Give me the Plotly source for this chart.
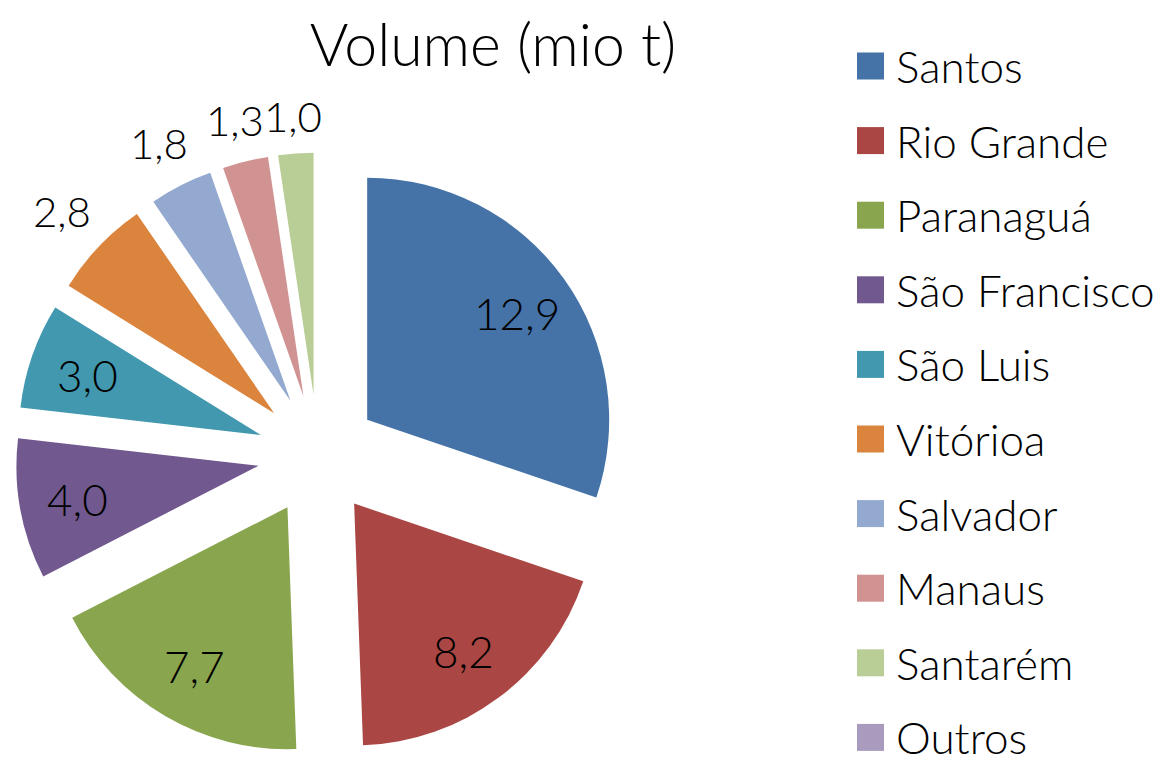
import math
import plotly.graph_objects as go

# ---- data ----
labels = ["Santos", "Rio Grande", "Paranaguá", "São Francisco", "São Luis",
          "Vitórioa", "Salvador", "Manaus", "Santarém", "Outros"]
values = [12.9, 8.2, 7.7, 4.0, 3.0, 2.8, 1.8, 1.3, 1.0, 0.0]
colors = ["#4572A7", "#AA4643", "#89A54E", "#71588F", "#4198AF",
          "#DB843D", "#93A9CF", "#D19392", "#B9CD96", "#A99BBD"]
label_pos = ["inside", "inside", "inside", "inside", "inside",
             "outside", "outside", "outside", "outside", "none"]
title_text = "Volume (mio t)"

# ---- style / layout constants ----
FONT = "Lato"
OFF = 8                     # page body margin of the browser
W, H = 1164 - OFF, 764 - OFF
PULL = 0.25
CX, CY = 318, 455           # pie centre (window px)
BOX = 605                   # pie box size (px) incl. pull
R = BOX / 2 / (1 + PULL)    # pie radius (px)


def fx(x):
    return (x - OFF) / W


def fy(y):
    return 1 - (y - OFF) / H


fig = go.Figure(go.Pie(
    labels=labels,
    values=values,
    textinfo="none",
    sort=False,
    direction="clockwise",
    rotation=0,
    pull=[PULL] * len(values),
    marker=dict(colors=colors, line=dict(width=0)),
    domain=dict(x=[fx(CX - BOX / 2), fx(CX + BOX / 2)],
                y=[fy(CY + BOX / 2), fy(CY - BOX / 2)]),
    showlegend=False,
    automargin=False,
    hoverinfo="label+value",
))

annotations = []
shapes = []

# data labels, positioned from the slice angles
total = sum(values)
cum = 0.0
for v, pos in zip(values, label_pos):
    if v > 0 and pos != "none":
        mid = (cum + v / 2) / total * 2 * math.pi
        dx, dy = math.sin(mid), -math.cos(mid)
        if pos == "inside":
            d = R * 1.01
            size = 44
        else:
            d = R * 1.315 + abs(dx) * 30 + abs(dy) * 20
            size = 42
        annotations.append(dict(
            text=f"{v:.1f}".replace(".", ","), xref="paper", yref="paper",
            x=fx(CX + d * dx), y=fy(CY + d * dy),
            xanchor="center", yanchor="middle", showarrow=False,
            font=dict(family=FONT, size=size, color="#000000", weight=300)))
    cum += v

# legend built from labels/colors
leg_x0, leg_y0, leg_step, sq = 857, 66, 74.6, 27
for i, (lab, col) in enumerate(zip(labels, colors)):
    yc = leg_y0 + i * leg_step
    shapes.append(dict(type="rect", xref="paper", yref="paper",
                       x0=fx(leg_x0), x1=fx(leg_x0 + sq),
                       y0=fy(yc + sq / 2), y1=fy(yc - sq / 2),
                       fillcolor=col, line=dict(width=0)))
    annotations.append(dict(text=lab, xref="paper", yref="paper",
                            x=fx(leg_x0 + sq + 10), y=fy(yc),
                            xanchor="left", yanchor="middle", showarrow=False,
                            font=dict(family=FONT, size=44, color="#000000", weight=300)))

fig.update_layout(
    width=W, height=H,
    margin=dict(l=0, r=0, t=0, b=0, autoexpand=False),
    paper_bgcolor="white",
    plot_bgcolor="white",
    title=dict(text=title_text, x=fx(493), xanchor="center",
               y=fy(45), yanchor="middle",
               font=dict(family=FONT, size=59, color="#000000", weight=300)),
    shapes=shapes,
    annotations=annotations,
)

fig.write_html("out.html")
